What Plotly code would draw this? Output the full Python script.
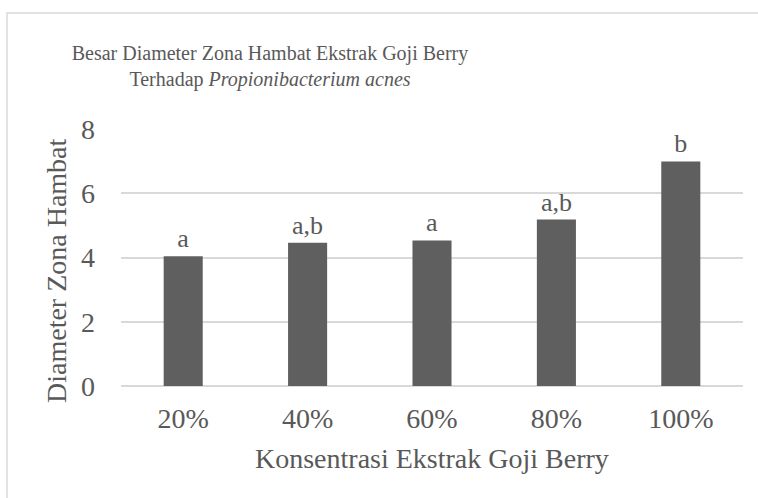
import plotly.graph_objects as go

categories = ["20%", "40%", "60%", "80%", "100%"]
values = [4.04, 4.46, 4.53, 5.18, 6.99]
letters = ["a", "a,b", "a", "a,b", "b"]
y_ticks = [0, 2, 4, 6, 8]

TXT = "#595959"
FONT = "Liberation Serif"
W, H = 758, 498
L, R, T, B = 121, 15, 129, 112
pw, ph = W - L - R, H - T - B

fig = go.Figure(go.Bar(
    x=categories, y=values, text=letters, textposition="outside",
    marker=dict(color="#5f5f5f", line=dict(width=0)),
    textfont=dict(family=FONT, size=26, color=TXT),
    cliponaxis=False,
))

fig.update_layout(
    width=W, height=H,
    margin=dict(l=L, r=R, t=T, b=B),
    paper_bgcolor="white", plot_bgcolor="white",
    bargap=0.686, showlegend=False,
    font=dict(family=FONT, color=TXT),
    title=dict(
        text="Besar Diameter Zona Hambat Ekstrak Goji Berry<br>Terhadap <i>Propionibacterium acnes</i>",
        x=270 / W, xanchor="center", xref="container",
        y=1 - 60 / H, yanchor="middle", yref="container",
        font=dict(family=FONT, size=20, color=TXT),
    ),
    xaxis=dict(
        showgrid=False, showline=False, zeroline=False,
        tickfont=dict(family=FONT, size=28, color=TXT),
        ticklabelstandoff=13,
    ),
    yaxis=dict(
        range=[0, 8], tickvals=y_ticks, showgrid=True, gridcolor="#d9d9d9", gridwidth=1.5,
        zeroline=True, zerolinecolor="#d9d9d9", zerolinewidth=1.5, showline=False,
        tickfont=dict(family=FONT, size=28, color=TXT),
        ticklabelstandoff=25,
    ),
    annotations=[
        dict(text="Konsentrasi Ekstrak Goji Berry", xref="paper", yref="paper",
             x=0.5, y=(386 - 459) / ph, xanchor="center", yanchor="middle",
             showarrow=False, font=dict(family=FONT, size=28, color=TXT)),
        dict(text="Diameter Zona Hambat", xref="paper", yref="paper",
             x=(56 - L) / pw, y=(386 - 271) / ph, xanchor="center", yanchor="middle", textangle=-90,
             showarrow=False, font=dict(family=FONT, size=28, color=TXT)),
    ],
    shapes=[
        dict(type="rect", xref="paper", yref="paper",
             x0=(7 - L) / pw, x1=(765 - L) / pw, y0=(386 - 505) / ph, y1=(386 - 13) / ph,
             line=dict(color="#d9d9d9", width=1.5), fillcolor="rgba(0,0,0,0)", layer="below"),
    ],
)

fig.write_html("out.html", config={"displayModeBar": False},
               post_script="document.body.style.margin='0';")
